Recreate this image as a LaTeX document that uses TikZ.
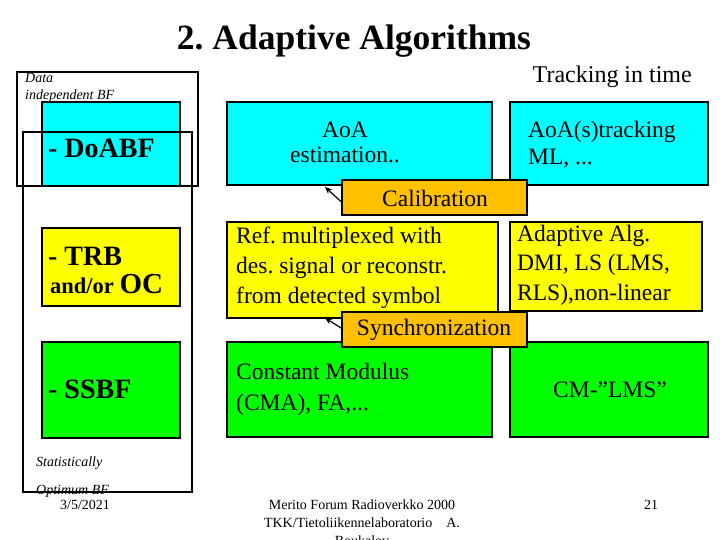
\documentclass[tikz,border=0pt]{standalone}
\usepackage{fontspec}
\setmainfont{Liberation Serif}
\usetikzlibrary{arrows.meta}
\frenchspacing
\definecolor{cy}{HTML}{00FFFF}
\definecolor{ye}{HTML}{FFFF00}
\definecolor{gr}{HTML}{00FF00}
\definecolor{og}{HTML}{FFC000}
\tikzset{
  box/.style={draw=black, line width=1.6bp, inner sep=0pt, outer sep=0pt},
  frame/.style={draw=black, line width=2bp},
  txt/.style={font=\fontsize{23.5bp}{30bp}\selectfont, inner sep=0pt},
  small/.style={font=\fontsize{14bp}{17bp}\selectfont\itshape, inner sep=0pt, anchor=base west},
  foot/.style={font=\fontsize{14bp}{18bp}\selectfont, inner sep=0pt, anchor=base},
  big/.style={font=\fontsize{28bp}{32bp}\selectfont\bfseries, inner sep=0pt, anchor=base west},
  arr/.style={draw=black, line width=1.2bp, -{Stealth[length=7bp,width=6bp]}}
}
\begin{document}
\begin{tikzpicture}[x=1bp,y=-1bp]
\useasboundingbox[fill=white] (0,0) rectangle (720,540);
% title
\node[font=\fontsize{35.5bp}{40bp}\selectfont\bfseries, inner sep=0pt, anchor=base] (title) at (354,50) {2. Adaptive Algorithms};
\node[font=\fontsize{24bp}{28bp}\selectfont, inner sep=0pt, anchor=base east] (track) at (692,83) {Tracking in time};
% frame 1
\draw[frame] (17,72) rectangle (198,186);
\node[small] (dat1) at (25,83) {Data};
\node[small] (dat2) at (25,100) {independent BF};
% left column boxes
\node[box, fill=cy, minimum width=138bp, minimum height=84bp, anchor=north west] (doabf) at (42,102) {};
\node[big] (doabft) at (48,158) {- DoABF};
\node[box, fill=ye, minimum width=138bp, minimum height=78bp, anchor=north west] (trb) at (42,228) {};
\node[big] (trbt) at (48,266) {- TRB};
\node[font=\fontsize{22.5bp}{26bp}\selectfont\bfseries, inner sep=0pt, anchor=base west] (trbt2) at (50,293) {and/or {\fontsize{29bp}{30bp}\selectfont OC}};
\node[box, fill=gr, minimum width=138bp, minimum height=96bp, anchor=north west] (ssbf) at (42,342) {};
\node[big] (ssbft) at (48,398) {- SSBF};
% frame 2
\draw[frame] (23,132) rectangle (192,492);
\node[small] (st1) at (36,466) {Statistically};
\node[small] (st2) at (36,494) {Optimum BF};
% cyan row
\node[box, fill=cy, minimum width=265bp, minimum height=83bp, anchor=north west] (aoa) at (227,102) {};
\node[txt, align=center, font=\fontsize{23.5bp}{25bp}\selectfont] (aoat) at (345,142) {AoA\\estimation..};
\node[box, fill=cy, minimum width=198bp, minimum height=83bp, anchor=north west] (aoat2b) at (510,102) {};
\node[txt, align=left, anchor=west, font=\fontsize{23.5bp}{27bp}\selectfont] (aoat2) at (528,145) {AoA(s)tracking\\ML, ...};
% yellow row
\node[box, fill=ye, minimum width=271bp, minimum height=96bp, anchor=north west] (ref) at (227,222) {};
\node[txt, align=left, anchor=west, font=\fontsize{23.5bp}{30bp}\selectfont] (reft) at (236,268) {Ref. multiplexed with\\des. signal or reconstr.\\from detected symbol};
\node[box, fill=ye, minimum width=192bp, minimum height=89bp, anchor=north west] (ada) at (510,222) {};
\node[txt, align=left, anchor=west, font=\fontsize{23.5bp}{29.5bp}\selectfont] (adat) at (517,265) {Adaptive Alg.\\DMI, LS (LMS,\\RLS),non-linear};
% green row
\node[box, fill=gr, minimum width=265bp, minimum height=95bp, anchor=north west] (cma) at (227,342) {};
\node[txt, align=left, anchor=west, font=\fontsize{23.5bp}{31bp}\selectfont] (cmat) at (236,389) {Constant Modulus\\(CMA), FA,...};
\node[box, fill=gr, minimum width=198bp, minimum height=95bp, anchor=north west] (cml) at (510,342) {};
\node[txt] (cmlt) at (610,390) {CM-”LMS”};
% orange boxes
\node[box, fill=og, minimum width=185bp, minimum height=35bp, anchor=north west] (cal) at (342,180) {};
\node[txt] (calt) at (435,198) {Calibration};
\node[box, fill=og, minimum width=185bp, minimum height=35bp, anchor=north west] (syn) at (342,312) {};
\node[txt] (synt) at (434,330) {Synchronization};
% arrows
\coordinate (calTip) at (325,187);
\coordinate (synTip) at (325,318);
\draw[arr] ([yshift=-5bp]cal.west) -- (calTip);
\draw[arr] ([yshift=1bp]syn.west) -- (synTip);
% footer
\node[foot] (date) at (85,509) {3/5/2021};
\node[foot] (mer) at (362,509) {Merito Forum Radioverkko 2000};
\node[foot] (tkk) at (362,527) {TKK/Tietoliikennelaboratorio\quad A.};
\node[foot] (bouk) at (362,545) {Boukalov};
\node[foot] (pg) at (651,509) {21};
\end{tikzpicture}
\end{document}
